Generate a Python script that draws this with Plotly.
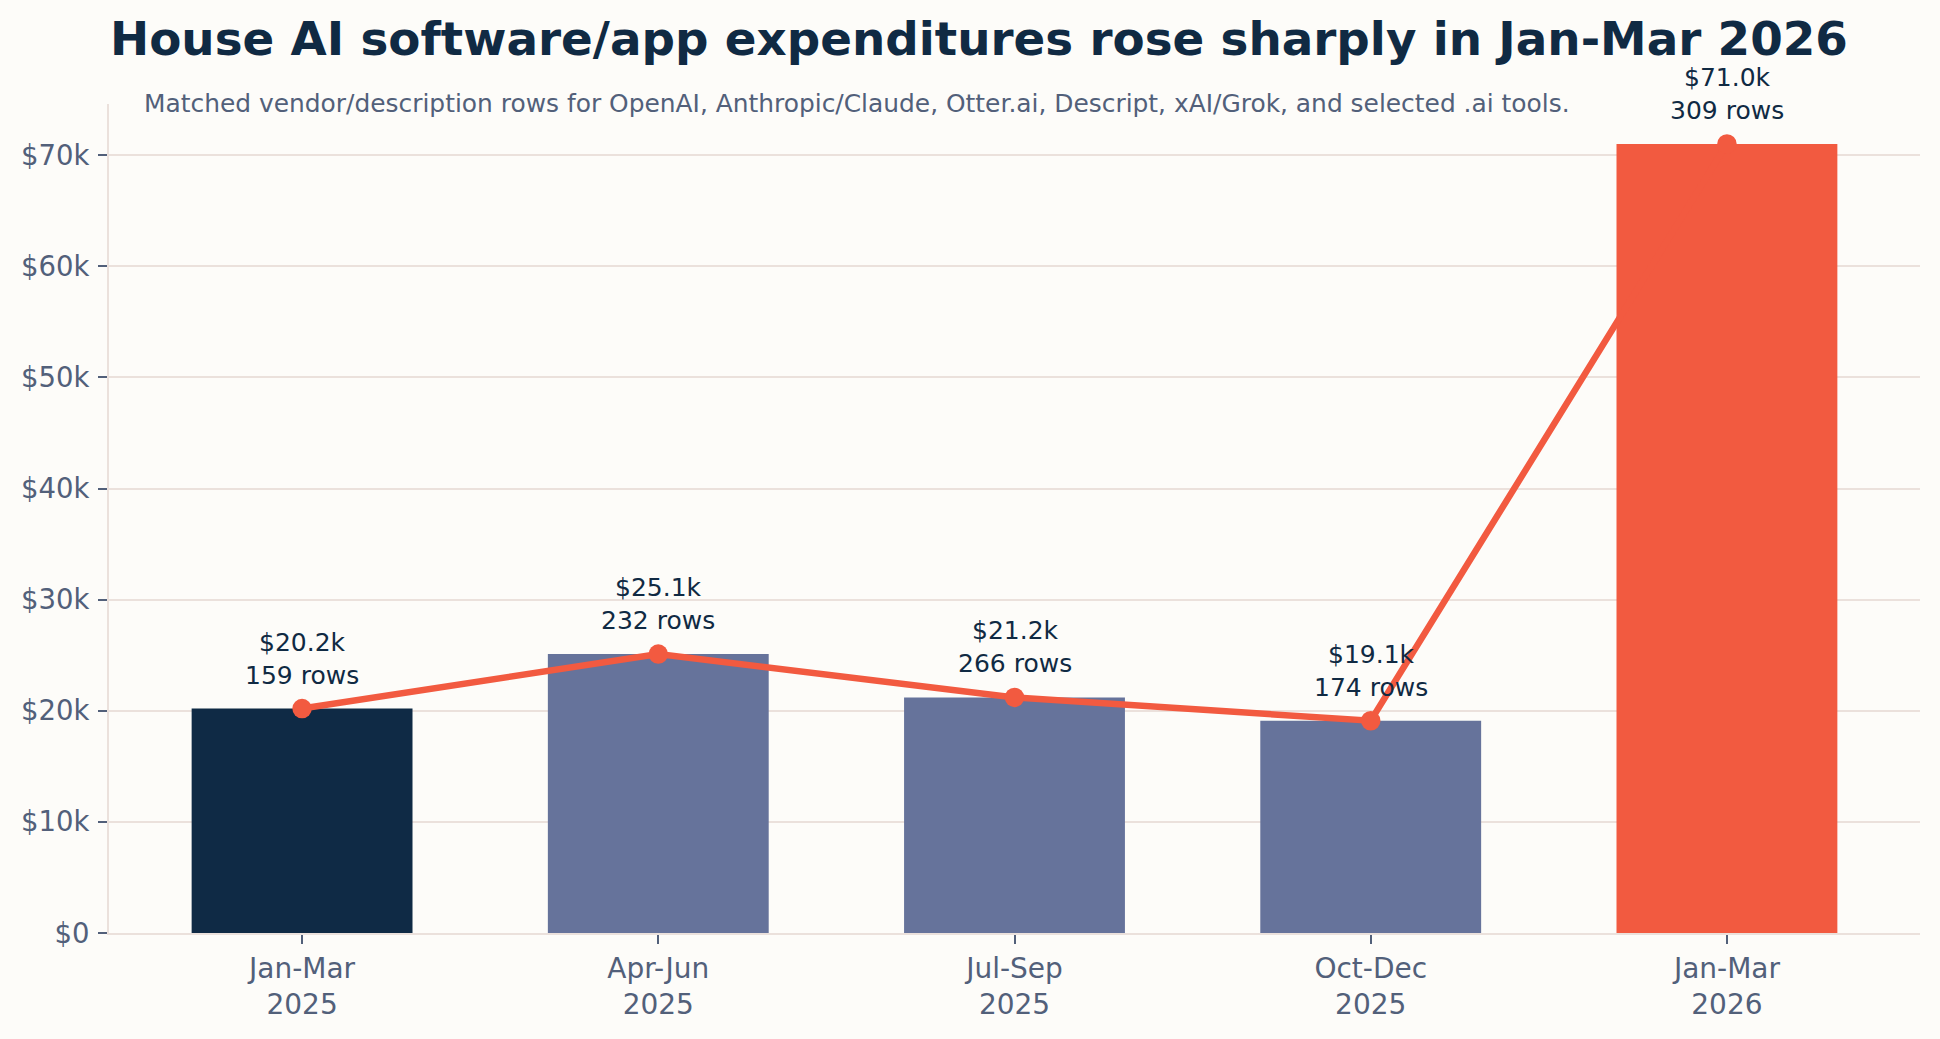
import plotly.graph_objects as go

# ---- data ----
quarters = ["Jan-Mar<br>2025", "Apr-Jun<br>2025", "Jul-Sep<br>2025", "Oct-Dec<br>2025", "Jan-Mar<br>2026"]
spend_k = [20.2, 25.1, 21.2, 19.1, 71.0]
row_counts = [159, 232, 266, 174, 309]
ytick_vals = [0, 10, 20, 30, 40, 50, 60, 70]
ytick_text = ["$0", "$10k", "$20k", "$30k", "$40k", "$50k", "$60k", "$70k"]

title_text = "House AI software/app expenditures rose sharply in Jan-Mar 2026"
subtitle_text = ("Matched vendor/description rows for OpenAI, Anthropic/Claude, Otter.ai, "
                 "Descript, xAI/Grok, and selected .ai tools.")

# ---- style ----
bar_colors = ["#0f2a45", "#66739b", "#66739b", "#66739b", "#f25a40"]
accent = "#f25a40"
navy = "#102a43"
muted = "#52607a"
grid = "#ebe1dc"
bg = "#fdfcf9"
FONT = "DejaVu Sans"

fig = go.Figure()
fig.add_trace(go.Bar(
    x=quarters, y=spend_k, width=0.62,
    marker=dict(color=bar_colors, line=dict(width=0)),
    hoverinfo="skip", showlegend=False,
))
fig.add_trace(go.Scatter(
    x=quarters, y=spend_k, mode="lines+markers",
    line=dict(color=accent, width=6.5),
    marker=dict(color=accent, size=19.5),
    hoverinfo="skip", showlegend=False,
))

for q, v, n in zip(quarters, spend_k, row_counts):
    fig.add_annotation(
        x=q, y=v, xref="x", yref="y",
        text=f"${v:.1f}k<br>{n} rows",
        showarrow=False, yanchor="bottom", yshift=17,
        font=dict(family=FONT, size=25, color=navy),
        align="center",
    )

fig.add_annotation(
    x=0.0182, y=1.0006, xref="paper", yref="paper",
    text=subtitle_text, showarrow=False,
    xanchor="left", yanchor="middle",
    font=dict(family=FONT, size=24.9, color=muted),
)

fig.update_layout(
    width=1940, height=1039,
    margin=dict(l=109, r=20, t=104, b=106),
    paper_bgcolor=bg, plot_bgcolor=bg,
    title=dict(
        text=title_text, x=0.5046, xanchor="center",
        y=1 - 39 / 1039, yanchor="middle", yref="container",
        font=dict(family=FONT, size=46.8, color=navy, weight="bold"),
    ),
    bargap=0.38,
    xaxis=dict(
        type="category", range=[-0.542, 4.542],
        showline=True, linecolor=grid, linewidth=2,
        showgrid=False, zeroline=False,
        ticks="outside", ticklen=9, tickwidth=2, tickcolor=muted,
        tickfont=dict(family=FONT, size=28, color=muted),
    ),
    yaxis=dict(
        range=[0, 74.6],
        tickvals=ytick_vals, ticktext=ytick_text,
        showline=True, linecolor=grid, linewidth=2,
        showgrid=True, gridcolor=grid, gridwidth=1.5,
        zeroline=False,
        ticks="outside", ticklen=9, tickwidth=2, tickcolor=muted,
        ticklabelstandoff=3,
        tickfont=dict(family=FONT, size=27.5, color=muted),
    ),
)

fig.write_html("out.html")
